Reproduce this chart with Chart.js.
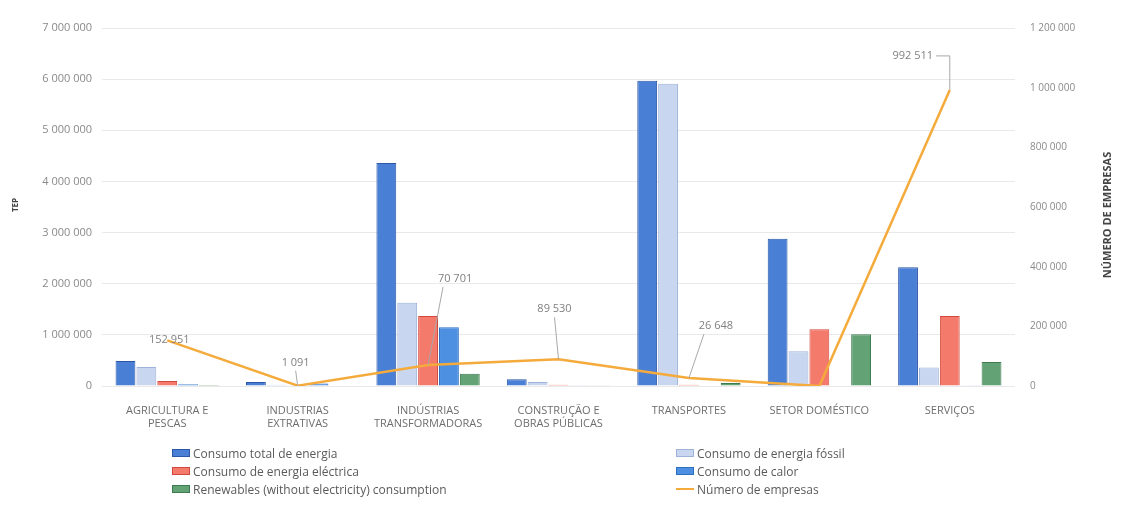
<!DOCTYPE html>
<html>
<head>
<meta charset="utf-8">
<script src="https://cdn.jsdelivr.net/npm/chart.js@4.4.1/dist/chart.umd.min.js"></script>
<style>
  html, body { margin: 0; padding: 0; background: #fff; }
  #wrap { position: relative; width: 1132px; height: 505px; }
  #legend { position: absolute; left: 0; top: 0; width: 1132px; height: 505px; pointer-events: none;
            font-family: "Open Sans", sans-serif; font-size: 12px; color: #5a5a5a; }
  .item { position: absolute; display: flex; align-items: center; height: 16px; white-space: nowrap; }
  .sw { width: 18px; height: 8px; margin-right: 3px; box-sizing: border-box; border: 1px solid; }
  .ln { width: 18px; height: 2px; margin-right: 3px; }
</style>
</head>
<body>
<div id="wrap">
  <canvas id="chart" width="1132" height="505"></canvas>
  <div id="legend"></div>
</div>
<script>
// data
const categories = [
  ['AGRICULTURA E', 'PESCAS'],
  ['INDUSTRIAS', 'EXTRATIVAS'],
  ['INDÚSTRIAS', 'TRANSFORMADORAS'],
  ['CONSTRUÇÃO E', 'OBRAS PÚBLICAS'],
  'TRANSPORTES',
  'SETOR DOMÉSTICO',
  'SERVIÇOS'
];
const consumoTotal    = [490000, 80000, 4360000, 130000, 5970000, 2880000, 2320000];
const consumoFossil   = [370000, 25000, 1630000, 80000, 5910000, 680000, 360000];
const consumoEletrica = [100000, 12000, 1370000, 25000, 25000, 1110000, 1370000];
const consumoCalor    = [35000, 50000, 1150000, 5000, 10000, 8000, 15000];
const renovaveis      = [20000, 10000, 240000, 3000, 60000, 1010000, 470000];
const numeroEmpresas  = [152951, 1091, 70701, 89530, 26648, 0, 992511];
const leftTicks  = [0, 1000000, 2000000, 3000000, 4000000, 5000000, 6000000, 7000000];
const rightTicks = [0, 200000, 400000, 600000, 800000, 1000000, 1200000];

// label placement for the line (offset from the point, px); null = no label
const labelOffsets = [[2, -1, false], [-2, -23, true], [27, -86, true], [-4, -50, true], [27, -52, true], null, [-37, -34, 'elbow']];

const fmt = v => String(v).replace(/\B(?=(\d{3})+(?!\d))/g, ' ');
const FONT = '"Open Sans", sans-serif';

const lineLabels = {
  id: 'lineLabels',
  afterDatasetsDraw(chart) {
    const ctx = chart.ctx;
    const meta = chart.getDatasetMeta(5);
    ctx.save();
    ctx.font = '11px ' + FONT;
    ctx.fillStyle = '#808080';
    ctx.strokeStyle = '#a8a8a8';
    ctx.lineWidth = 1;
    ctx.textAlign = 'center';
    ctx.textBaseline = 'middle';
    meta.data.forEach((pt, i) => {
      const off = labelOffsets[i];
      if (!off) return;
      const lx = pt.x + off[0], ly = pt.y + off[1];
      const txt = fmt(numeroEmpresas[i]);
      if (off[2] === true) {
        ctx.beginPath();
        ctx.moveTo(lx + (off[0] > 10 ? -12 : 0), ly + 8);
        ctx.lineTo(pt.x, pt.y);
        ctx.stroke();
      } else if (off[2] === 'elbow') {
        const w = ctx.measureText(txt).width;
        ctx.beginPath();
        ctx.moveTo(lx + w / 2 + 3, ly);
        ctx.lineTo(pt.x, ly);
        ctx.lineTo(pt.x, pt.y);
        ctx.stroke();
      }
      ctx.fillText(txt, lx, ly);
    });
    ctx.restore();
  }
};

const axisTitles = {
  id: 'axisTitles',
  afterDraw(chart) {
    const ctx = chart.ctx;
    ctx.save();
    ctx.fillStyle = '#444';
    ctx.textAlign = 'center';
    ctx.textBaseline = 'middle';
    ctx.font = 'bold 8px ' + FONT;
    ctx.translate(16, 205);
    ctx.rotate(-Math.PI / 2);
    ctx.fillText('TEP', 0, 0);
    ctx.restore();
    ctx.save();
    ctx.fillStyle = '#444';
    ctx.textAlign = 'center';
    ctx.textBaseline = 'middle';
    ctx.font = 'bold 11px ' + FONT;
    ctx.translate(1108, 215);
    ctx.rotate(-Math.PI / 2);
    ctx.fillText('NÚMERO DE EMPRESAS', 0, 0);
    ctx.restore();
  }
};

const barDs = (label, data, bg, border) => ({
  type: 'bar', label, data, backgroundColor: bg, borderColor: border,
  borderWidth: 1, yAxisID: 'y', order: 1,
  categoryPercentage: 0.8, barPercentage: 0.95
});

const chart = new Chart(document.getElementById('chart'), {
  data: {
    labels: categories,
    datasets: [
      barDs('Consumo total de energia', consumoTotal, '#4a7fd6', '#2c56a6'),
      barDs('Consumo de energia fóssil', consumoFossil, '#c8d6ef', '#9fb3da'),
      barDs('Consumo de energia eléctrica', consumoEletrica, '#f47a6c', '#d2483c'),
      barDs('Consumo de calor', consumoCalor, '#4d8fe0', '#2f6fc0'),
      barDs('Renewables (without electricity) consumption', renovaveis, '#62a274', '#3e7b51'),
      {
        type: 'line', label: 'Número de empresas', data: numeroEmpresas,
        borderColor: '#f5aa3c', borderWidth: 2.5, pointRadius: 0, tension: 0,
        yAxisID: 'y1', order: 0
      }
    ]
  },
  options: {
    responsive: false,
    animation: false,
    layout: { padding: { top: 28, bottom: 0, left: 0, right: 0 } },
    plugins: { legend: { display: false }, tooltip: { enabled: false } },
    scales: {
      x: {
        grid: { display: false },
        border: { display: false },
        ticks: { color: '#6e6e6e', font: { family: FONT, size: 11 }, padding: 10, maxRotation: 0, autoSkip: false },
        afterFit: s => { s.height = 119; }
      },
      y: {
        position: 'left', min: 0, max: 7000000,
        afterBuildTicks: s => { s.ticks = leftTicks.map(v => ({ value: v })); },
        grid: { color: '#e9e9e9', drawTicks: false },
        border: { display: false },
        ticks: { color: '#8a8a8a', font: { family: FONT, size: 11 }, padding: 10, callback: v => fmt(v) },
        afterFit: s => { s.width = 102; }
      },
      y1: {
        position: 'right', min: 0, max: 1200000,
        afterBuildTicks: s => { s.ticks = rightTicks.map(v => ({ value: v })); },
        grid: { display: false, drawTicks: false },
        border: { display: false },
        ticks: { color: '#8a8a8a', font: { family: FONT, size: 10 }, padding: 15, callback: v => fmt(v) },
        afterFit: s => { s.width = 117; }
      }
    }
  },
  plugins: [lineLabels, axisTitles]
});

// legend in two columns, built from the datasets
const legendOrder = [[0, 172, 453], [1, 676, 453], [2, 172, 471], [3, 676, 471], [4, 172, 489], [5, 676, 489]];
const legendEl = document.getElementById('legend');
legendOrder.forEach(([idx, x, y]) => {
  const ds = chart.data.datasets[idx];
  const item = document.createElement('div');
  item.className = 'item';
  item.style.left = x + 'px';
  item.style.top = (y - 8) + 'px';
  const sw = document.createElement('span');
  if (ds.type === 'line') {
    sw.className = 'ln';
    sw.style.background = ds.borderColor;
  } else {
    sw.className = 'sw';
    sw.style.background = ds.backgroundColor;
    sw.style.borderColor = ds.borderColor;
  }
  item.appendChild(sw);
  item.appendChild(document.createTextNode(ds.label));
  legendEl.appendChild(item);
});
</script>
</body>
</html>
